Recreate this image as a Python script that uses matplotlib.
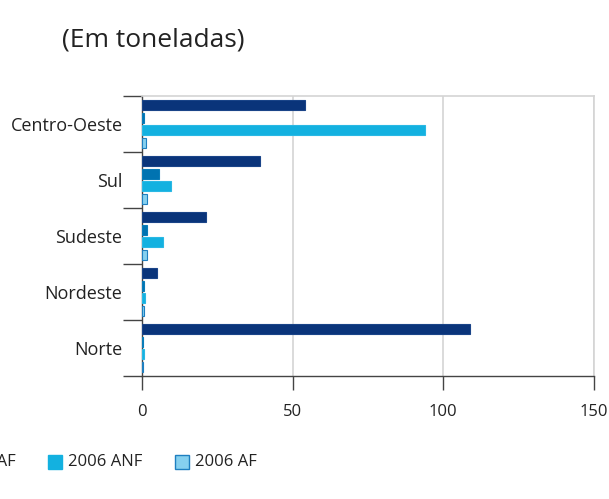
import numpy as np
import matplotlib
matplotlib.use("Agg")
import matplotlib.pyplot as plt
from matplotlib.patches import Rectangle

plt.rcParams["font.family"] = ["Open Sans", "DejaVu Sans"]

# data (tonnes), top to bottom
regions = ["Centro-Oeste", "Sul", "Sudeste", "Nordeste", "Norte"]
anf_2005 = [54.0, 39.2, 21.1, 5.1, 108.9]
af_2005 = [0.8, 5.6, 1.8, 0.5, 0.2]
anf_2006 = [94.0, 9.6, 6.9, 0.9, 0.8]
af_2006 = [1.3, 1.8, 1.5, 0.5, 0.4]
series_labels = ["2005 ANF", "2005 AF", "2006 ANF", "2006 AF"]
xticks = [0, 50, 100, 150]

colors = ["#0a347a", "#0073b1", "#13b1e0", "#86d0ef"]
edges = ["#1a4488", "#0a7cb8", "#2ab8e4", "#1f7fc0"]
offsets = [-0.3375, -0.1125, 0.1125, 0.3375]

W, H = 609, 499
fig = plt.figure(figsize=(W / 100, H / 100), dpi=100)
ax = fig.add_axes([142 / W, 1 - 376 / H, 452 / W, 280 / H])

y = np.arange(len(regions))
for vals, c, ec, off in zip([anf_2005, af_2005, anf_2006, af_2006], colors, edges, offsets):
    ax.barh(y + off, vals, height=0.18, color=c, edgecolor=ec, linewidth=0.8, zorder=3)

ax.set_xlim(0, 150)
ax.set_ylim(len(regions) - 0.5, -0.5)
ax.set_xticks(xticks)
ax.set_xticklabels([str(t) for t in xticks], fontsize=12, color="#222222")
ax.set_yticks(y)
ax.set_yticklabels(regions, fontsize=13, color="#222222")
ax.set_yticks(np.arange(len(regions) + 1) - 0.5, minor=True)

ax.tick_params(axis="y", which="major", length=0, pad=14)
ax.tick_params(axis="y", which="minor", length=14, width=1, color="#444444")
ax.tick_params(axis="x", which="major", length=10, width=1, color="#444444", pad=10)

ax.grid(axis="x", color="#d4d4d4", linewidth=1.2, zorder=0)
for s in ["left", "bottom"]:
    ax.spines[s].set_color("#444444")
    ax.spines[s].set_linewidth(1.0)
for s in ["top", "right"]:
    ax.spines[s].set_color("#d4d4d4")
    ax.spines[s].set_linewidth(1.2)

fig.text(62 / W, 1 - 40 / H, "(Em toneladas)", fontsize=19, color="#222222",
         va="center", ha="left")

# legend, partly outside the left edge as in the source
leg_x = [-193, -66, 48, 175]
for lab, c, ec, lx in zip(series_labels, colors, edges, leg_x):
    fig.patches.append(Rectangle((lx / W, 1 - 469 / H), 14 / W, 14 / H,
                                 transform=fig.transFigure, facecolor=c,
                                 edgecolor=ec if lab.endswith(" AF") else c,
                                 linewidth=1.0))
    fig.text((lx + 20) / W, 1 - 462 / H, lab, fontsize=12, color="#222222",
             va="center", ha="left")

fig.savefig("out.png", dpi=100)
